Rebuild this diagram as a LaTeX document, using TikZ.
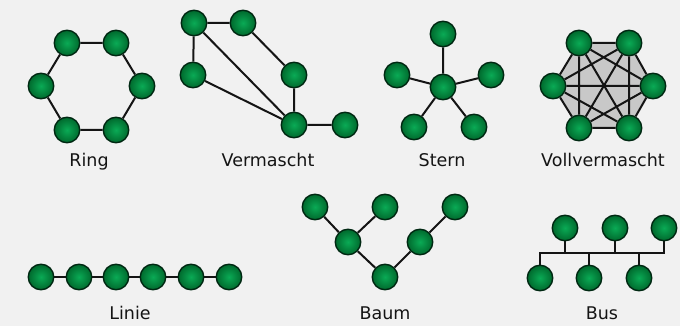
\documentclass[tikz,border=0pt]{standalone}
\usepackage{fontspec}
\setsansfont{DejaVu Sans}
\definecolor{pagegray}{RGB}{241,241,241}
\definecolor{meshgray}{RGB}{200,200,200}
\definecolor{ballin}{RGB}{10,170,85}
\definecolor{ballout}{RGB}{0,105,45}
\definecolor{ballrim}{RGB}{0,40,18}
\definecolor{linkcol}{RGB}{20,20,20}
\pgfdeclarelayer{back}
\pgfdeclarelayer{links}
\pgfsetlayers{back,links,main}

\begin{document}
\begin{tikzpicture}[x=1pt,y=-1pt,
    station/.style={circle,inner sep=0,minimum size=\ballsize pt,draw=ballrim,line width=1.4pt,
        shading=radial,inner color=ballin,outer color=ballout},
    link/.style={line width=2pt,linkcol},
    caption/.style={anchor=base,font=\labelfont,text=linkcol}]
    \pgfmathsetmacro{\ballsize}{25.5}
    \pgfmathsetmacro{\busy}{253}
    \providecommand{\labelfont}{\sffamily\fontsize{17.5pt}{20pt}\selectfont}
    \begin{pgfonlayer}{back}
    \fill[pagegray] (0,0) rectangle (680,326);
    \end{pgfonlayer}
    \useasboundingbox (0,0) rectangle (680,326);
    % Ring
    \node[station](r1) at (67,43){};
    \node[station](r2) at (116,43){};
    \node[station](r3) at (41,86){};
    \node[station](r4) at (142,86){};
    \node[station](r5) at (67,130){};
    \node[station](r6) at (116,130){};
    \node[caption](ringtext) at (89,167){Ring};
    % Vermascht
    \node[station](m1) at (194,23){};
    \node[station](m2) at (243,23){};
    \node[station](m3) at (193,75){};
    \node[station](m4) at (294,75){};
    \node[station](m5) at (294,125){};
    \node[station](m6) at (345,125){};
    \node[caption](meshtext) at (268,167){Vermascht};
    % Stern
    \node[station](s0) at (443,87){};
    \node[station](s1) at (443,34){};
    \node[station](s2) at (397,75){};
    \node[station](s3) at (491,75){};
    \node[station](s4) at (414,127){};
    \node[station](s5) at (474,127){};
    \node[caption](startext) at (442,167){Stern};
    % Vollvermascht
    \node[station](v1) at (579,43){};
    \node[station](v2) at (629,43){};
    \node[station](v3) at (553,86){};
    \node[station](v4) at (653,86){};
    \node[station](v5) at (579,128){};
    \node[station](v6) at (629,128){};
    \node[caption](fulltext) at (603,167){Vollvermascht};
    % Linie
    \node[station](l1) at (41,277){};
    \node[station](l2) at (79,277){};
    \node[station](l3) at (116,277){};
    \node[station](l4) at (153,277){};
    \node[station](l5) at (191,277){};
    \node[station](l6) at (229,277){};
    \node[caption](linetext) at (130,319){Linie};
    % Baum
    \node[station](t1) at (315,207){};
    \node[station](t2) at (385,207){};
    \node[station](t3) at (455,207){};
    \node[station](t4) at (348,242){};
    \node[station](t5) at (420,242){};
    \node[station](t6) at (385,277){};
    \node[caption](treetext) at (385,319){Baum};
    % Bus
    \node[station](u1) at (565,228){};
    \node[station](u2) at (615,228){};
    \node[station](u3) at (664,228){};
    \node[station](u4) at (540,278){};
    \node[station](u5) at (589,278){};
    \node[station](u6) at (639,278){};
    \coordinate (busline) at (600,\busy);
    \node[caption](bustext) at (602,319){Bus};
    \begin{pgfonlayer}{links}
    \fill[meshgray] (v1.center) -- (v2.center) -- (v4.center) -- (v6.center) -- (v5.center) -- (v3.center) -- cycle;
    \draw[link] (r1) -- (r2) -- (r4) -- (r6) -- (r5) -- (r3) -- (r1);
    \draw[link] (m1) -- (m2) -- (m4) -- (m5) -- (m6) (m1) -- (m3) -- (m5) (m1) -- (m5);
    \draw[link] (s0) -- (s1) (s0) -- (s2) (s0) -- (s3) (s0) -- (s4) (s0) -- (s5);
    \draw[link] (v1) -- (v2) (v1) -- (v3) (v1) -- (v4) (v1) -- (v5) (v1) -- (v6)
        (v2) -- (v3) (v2) -- (v4) (v2) -- (v5) (v2) -- (v6)
        (v3) -- (v4) (v3) -- (v5) (v3) -- (v6)
        (v4) -- (v5) (v4) -- (v6) (v5) -- (v6);
    \draw[link] (l1) -- (l2) -- (l3) -- (l4) -- (l5) -- (l6);
    \draw[link] (t1) -- (t4) -- (t6) -- (t5) -- (t3) (t2) -- (t4);
    \draw[link] (u4.center) -- (u4.center |- busline) -- (u3.center |- busline) -- (u3.center)
        (u1) -- (u1 |- busline) (u2) -- (u2 |- busline)
        (u5) -- (u5 |- busline) (u6) -- (u6 |- busline);
    \end{pgfonlayer}
\end{tikzpicture}
\end{document}
